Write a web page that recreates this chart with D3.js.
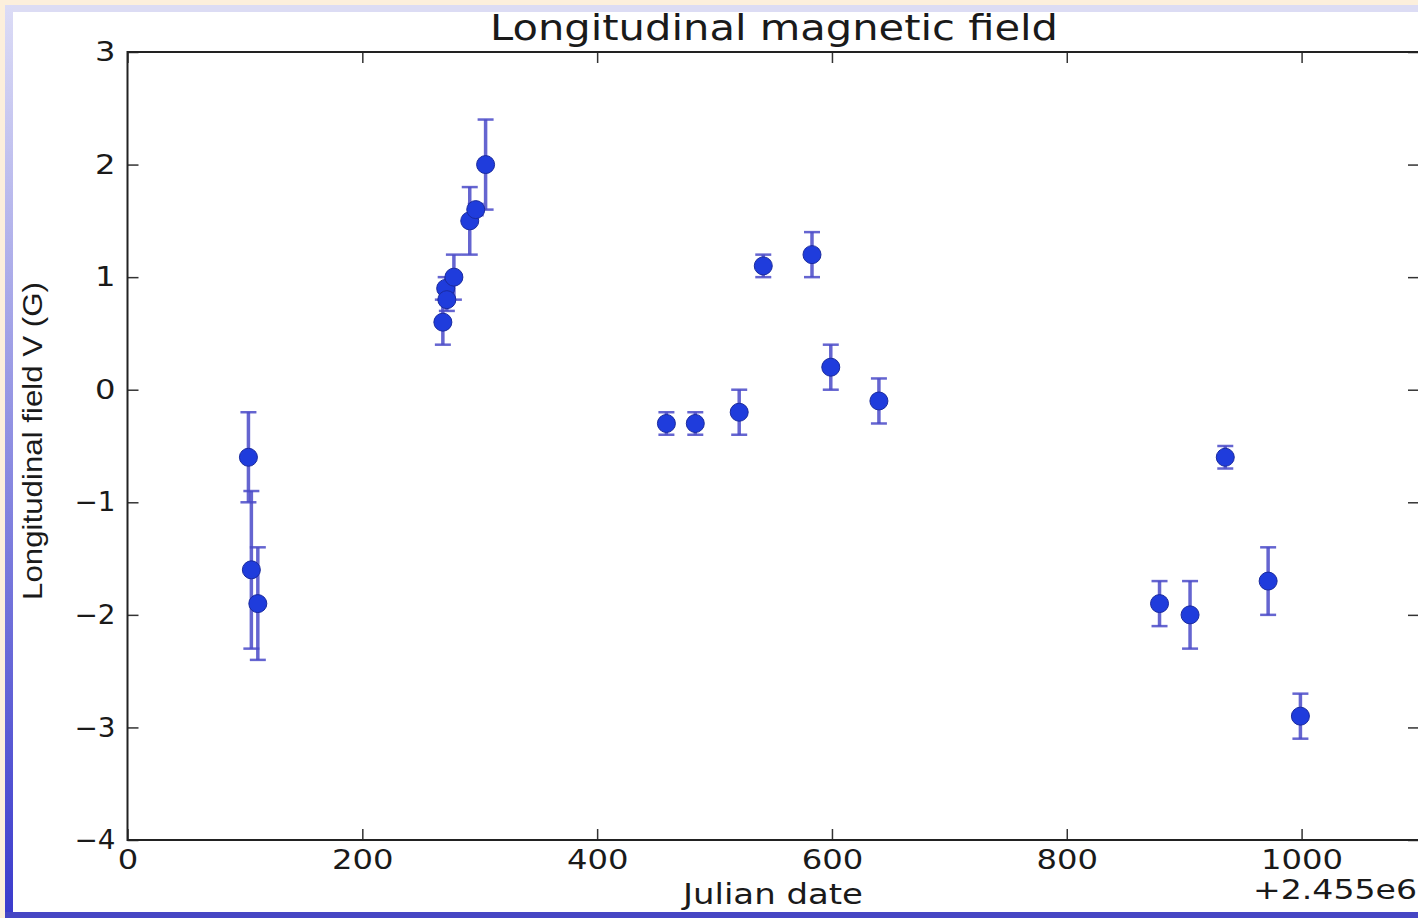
<!DOCTYPE html>
<html>
<head>
<meta charset="utf-8">
<script src="https://cdn.jsdelivr.net/npm/d3@7"></script>
<style>
	html, body { margin: 0; padding: 0; background: #fcefdc; }
	svg { display: block; }
</style>
</head>
<body>
<svg id="chart"></svg>
<script>
// Julian date offsets (+2.455e6), field values (G) and error bar half-widths
const julianDates = [103, 105.5, 111, 268.6, 271, 272, 278, 291.5, 296.6, 305, 459, 483.6, 521, 541.5, 583, 599, 640, 879, 905, 935, 971.5, 999];
const fieldValues = [-0.6, -1.6, -1.9, 0.6, 0.9, 0.8, 1.0, 1.5, 1.6, 2.0, -0.3, -0.3, -0.2, 1.1, 1.2, 0.2, -0.1, -1.9, -2.0, -0.6, -1.7, -2.9];
const fieldErrors = [0.4, 0.7, 0.5, 0.2, 0.1, 0.1, 0.2, 0.3, 0.05, 0.4, 0.1, 0.1, 0.2, 0.1, 0.2, 0.2, 0.2, 0.2, 0.3, 0.1, 0.3, 0.2];

const xTicks = [0, 200, 400, 600, 800, 1000];
const yTicks = [-4, -3, -2, -1, 0, 1, 2, 3];

const data = julianDates.map((d, i) => ({ date: d, value: fieldValues[i], err: fieldErrors[i] }));

const config = {
	containerWidth: 1418,
	containerHeight: 918,
	margin: { top: 52, right: -1, bottom: 78, left: 127.5 }
};
config.width = config.containerWidth - config.margin.left - config.margin.right;
config.height = config.containerHeight - config.margin.top - config.margin.bottom;

const svg = d3.select('#chart')
	.attr('width', config.containerWidth)
	.attr('height', config.containerHeight);

// slide frame behind the figure
const defs = svg.append('defs');
const grad = defs.append('linearGradient')
	.attr('id', 'leftStrip')
	.attr('x1', 0).attr('y1', 0).attr('x2', 0).attr('y2', 1);
grad.append('stop').attr('offset', '0%').attr('stop-color', '#dcdcf6');
grad.append('stop').attr('offset', '100%').attr('stop-color', '#3a3acc');

svg.append('rect').attr('width', 1418).attr('height', 918).attr('fill', '#fcefdc');
svg.append('rect').attr('x', 5).attr('y', 5).attr('width', 1413).attr('height', 913).attr('fill', '#dcdcf4');
svg.append('rect').attr('x', 5).attr('y', 5).attr('width', 8).attr('height', 913).attr('fill', 'url(#leftStrip)');
svg.append('rect').attr('x', 5).attr('y', 912).attr('width', 1413).attr('height', 6).attr('fill', '#4646c4');
svg.append('rect').attr('x', 13).attr('y', 12).attr('width', 1405).attr('height', 900).attr('fill', '#ffffff');

const chart = svg.append('g')
	.attr('transform', `translate(${config.margin.left},${config.margin.top})`);

const xScale = d3.scaleLinear().domain([0, 1100]).range([0, config.width]);
const yScale = d3.scaleLinear().domain([-4, 3]).range([config.height, 0]);

// matplotlib style: ticks point inwards on all four sides
const tickLen = 11;
const styleAxis = (g) => {
	g.select('.domain').remove();
	g.selectAll('.tick line').attr('stroke', '#333').attr('stroke-width', 1.5);
};

const xAxisG = chart.append('g')
	.attr('transform', `translate(0,${config.height})`)
	.call(d3.axisBottom(xScale).tickValues(xTicks).tickSizeInner(-tickLen).tickSizeOuter(0).tickFormat(d3.format('d')))
	.call(styleAxis);
chart.append('g')
	.call(d3.axisTop(xScale).tickValues(xTicks).tickSizeInner(-tickLen).tickSizeOuter(0).tickFormat(''))
	.call(styleAxis);
const yAxisG = chart.append('g')
	.call(d3.axisLeft(yScale).tickValues(yTicks).tickSizeInner(-tickLen).tickSizeOuter(0)
		.tickFormat(d => d < 0 ? '\u2212' + Math.abs(d) : d))
	.call(styleAxis);
chart.append('g')
	.attr('transform', `translate(${config.width},0)`)
	.call(d3.axisRight(yScale).tickValues(yTicks).tickSizeInner(-tickLen).tickSizeOuter(0).tickFormat(''))
	.call(styleAxis);

[xAxisG, yAxisG].forEach(g => {
	g.selectAll('.tick text')
		.attr('font-family', 'DejaVu Sans')
		.attr('font-size', 27)
		.attr('fill', '#1a1a1a')
		.attr('textLength', function() { return this.textContent.length * 20.5; })
		.attr('lengthAdjust', 'spacingAndGlyphs');
});
xAxisG.selectAll('.tick text').attr('y', 10).attr('dy', '0.71em');
yAxisG.selectAll('.tick text').attr('x', -12);

// frame of the axes
chart.append('rect')
	.attr('width', config.width)
	.attr('height', config.height)
	.attr('fill', 'none')
	.attr('stroke', '#222')
	.attr('stroke-width', 2);

// error bars
const bars = chart.append('g').attr('class', 'errorbars')
	.attr('stroke', '#4a4ac8')
	.attr('stroke-opacity', 0.85);
const capHalf = 8;
bars.selectAll('.bar')
	.data(data)
	.join('line')
	.attr('class', 'bar')
	.attr('x1', d => xScale(d.date)).attr('x2', d => xScale(d.date))
	.attr('y1', d => yScale(d.value + d.err)).attr('y2', d => yScale(d.value - d.err))
	.attr('stroke-width', 3.5);
bars.selectAll('.cap-top')
	.data(data)
	.join('line')
	.attr('class', 'cap-top')
	.attr('x1', d => xScale(d.date) - capHalf).attr('x2', d => xScale(d.date) + capHalf)
	.attr('y1', d => yScale(d.value + d.err)).attr('y2', d => yScale(d.value + d.err))
	.attr('stroke-width', 2.5);
bars.selectAll('.cap-bottom')
	.data(data)
	.join('line')
	.attr('class', 'cap-bottom')
	.attr('x1', d => xScale(d.date) - capHalf).attr('x2', d => xScale(d.date) + capHalf)
	.attr('y1', d => yScale(d.value - d.err)).attr('y2', d => yScale(d.value - d.err))
	.attr('stroke-width', 2.5);

// points
chart.selectAll('.point')
	.data(data)
	.join('circle')
	.attr('class', 'point')
	.attr('cx', d => xScale(d.date))
	.attr('cy', d => yScale(d.value))
	.attr('r', 9)
	.attr('fill', '#1f3cdc')
	.attr('stroke', '#1a2a9e')
	.attr('stroke-width', 1);

// titles
svg.append('text')
	.attr('x', 774)
	.attr('y', 40)
	.attr('text-anchor', 'middle')
	.attr('font-family', 'DejaVu Sans')
	.attr('font-size', 35)
	.attr('fill', '#1a1a1a')
	.attr('textLength', 568)
	.attr('lengthAdjust', 'spacingAndGlyphs')
	.text('Longitudinal magnetic field');

svg.append('text')
	.attr('x', 773)
	.attr('y', 904)
	.attr('text-anchor', 'middle')
	.attr('font-family', 'DejaVu Sans')
	.attr('font-size', 28)
	.attr('fill', '#1a1a1a')
	.attr('textLength', 180)
	.attr('lengthAdjust', 'spacingAndGlyphs')
	.text('Julian date');

svg.append('text')
	.attr('x', 1417)
	.attr('y', 899)
	.attr('text-anchor', 'end')
	.attr('font-family', 'DejaVu Sans')
	.attr('font-size', 26)
	.attr('fill', '#1a1a1a')
	.attr('textLength', 164)
	.attr('lengthAdjust', 'spacingAndGlyphs')
	.text('+2.455e6');

svg.append('text')
	.attr('transform', 'translate(42,441) rotate(-90)')
	.attr('text-anchor', 'middle')
	.attr('font-family', 'Liberation Sans')
	.attr('font-size', 28)
	.attr('fill', '#1a1a1a')
	.attr('textLength', 318)
	.attr('lengthAdjust', 'spacingAndGlyphs')
	.text('Longitudinal field V (G)');
</script>
</body>
</html>
